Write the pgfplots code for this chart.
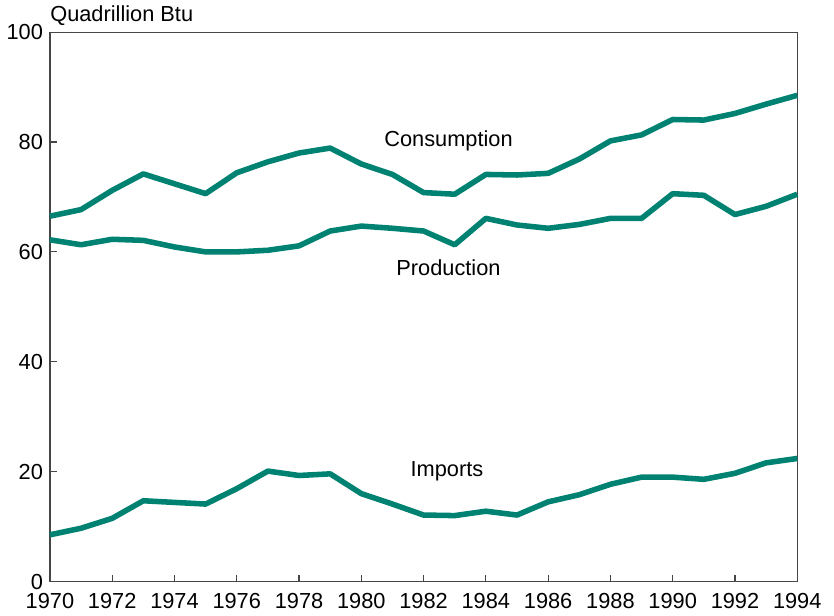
\documentclass[border=0pt]{standalone}
\usepackage{fontspec}
\setmainfont{Liberation Sans}
\usepackage{pgfplots}
\pgfplotsset{compat=1.18}
\definecolor{lineteal}{RGB}{0,130,114}
\definecolor{frame}{RGB}{70,70,70}

\pgfplotstableread{
year cons prod imp
1970 66.5 62.2 8.5
1971 67.7 61.3 9.7
1972 71.2 62.3 11.5
1973 74.2 62.1 14.7
1974 72.4 60.9 14.4
1975 70.6 60.0 14.1
1976 74.4 60.0 16.9
1977 76.4 60.3 20.1
1978 78.0 61.1 19.3
1979 78.9 63.8 19.6
1980 76.0 64.7 16.0
1981 74.1 64.3 14.1
1982 70.8 63.8 12.1
1983 70.5 61.3 12.0
1984 74.1 66.1 12.8
1985 74.0 64.9 12.1
1986 74.3 64.3 14.5
1987 76.9 65.0 15.8
1988 80.2 66.1 17.7
1989 81.3 66.1 19.0
1990 84.1 70.6 19.0
1991 84.0 70.3 18.6
1992 85.2 66.8 19.7
1993 86.9 68.3 21.6
1994 88.5 70.5 22.4
}\energy

\begin{document}
\begin{tikzpicture}
\begin{axis}[
  scale only axis,
  width=377.5pt, height=277.5pt,
  xmin=1970, xmax=1994, ymin=0, ymax=100,
  xtick={1970,1972,...,1994},
  ytick={0,20,...,100},
  xticklabel style={/pgf/number format/1000 sep=, yshift=-2.5pt},
  /pgf/number format/assume math mode=true,
  tick label style={font=\fontsize{11}{13}\selectfont, black},
  tick align=inside,
  xtick pos=left, ytick pos=left,
  major tick length=3.5pt,
  axis line style={frame, line width=0.6pt},
  every tick/.style={frame, line width=0.6pt},
  clip=false,
]
\addplot[lineteal, line width=2.8pt, no markers, line join=round] table[x=year, y=cons] {\energy};
\addplot[lineteal, line width=2.8pt, no markers, line join=round] table[x=year, y=prod] {\energy};
\addplot[lineteal, line width=2.8pt, no markers, line join=round] table[x=year, y=imp] {\energy};
\node[font=\fontsize{11}{13}\selectfont] at (axis cs:1982.8,80.2) {Consumption};
\node[font=\fontsize{11}{13}\selectfont] at (axis cs:1982.8,57.1) {Production};
\node[font=\fontsize{11}{13}\selectfont] at (axis cs:1982.75,20.0) {Imports};
\node[font=\fontsize{11}{13}\selectfont, anchor=south west, inner sep=0pt]
  at ([yshift=3pt]rel axis cs:0,1) {Quadrillion Btu};
\end{axis}
\path ([xshift=3pt,yshift=3pt]current bounding box.north east);
\end{tikzpicture}
\end{document}
